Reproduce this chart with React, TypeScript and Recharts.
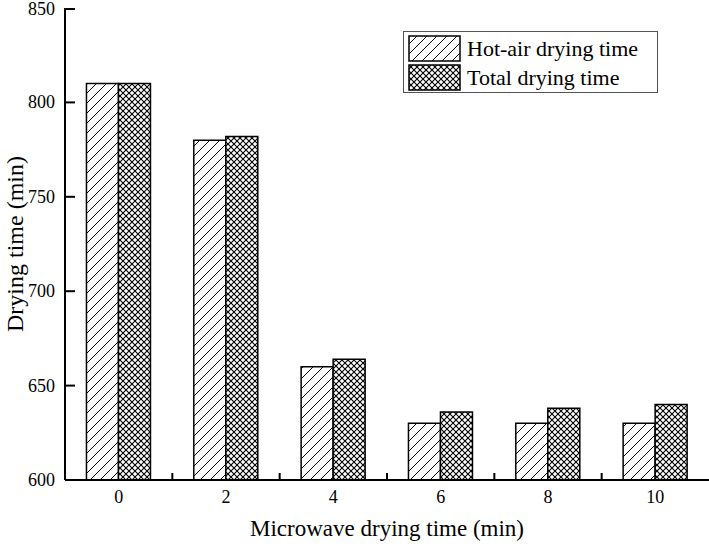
import { Bar, BarChart, XAxis, YAxis, Label } from "recharts";

const categories = ["0", "2", "4", "6", "8", "10"];
const hotAirTime = [810, 780, 660, 630, 630, 630];
const totalTime = [810, 782, 664, 636, 638, 640];
const yTicks = [600, 650, 700, 750, 800, 850];

const data = categories.map((name, i) => ({
	name,
	hotAir: hotAirTime[i],
	total: totalTime[i],
}));

const font = "Liberation Serif";

function Patterns() {
	return (
		<svg width={0} height={0} style={{ position: "absolute" }}>
			<defs>
				<pattern id="hatch" patternUnits="userSpaceOnUse" width={10} height={10}>
					<rect width={10} height={10} fill="#fff" />
					<path
						d="M0,10 L10,0 M-2.5,2.5 L2.5,-2.5 M7.5,12.5 L12.5,7.5"
						stroke="#000"
						strokeWidth={1}
					/>
				</pattern>
				<pattern id="cross" patternUnits="userSpaceOnUse" width={6} height={6}>
					<rect width={6} height={6} fill="#fff" />
					<path d="M0,0 L6,6 M6,0 L0,6" stroke="#000" strokeWidth={1.1} />
				</pattern>
			</defs>
		</svg>
	);
}

// category label at the centre, small inward tick at the left edge of the band
function XTick(props: any) {
	const { x, y, payload } = props;
	const half = payload?.offset ?? 53.7;
	const axisY = y - 8;
	return (
		<g>
			{payload.index > 0 && (
				<line
					x1={x - half}
					x2={x - half}
					y1={axisY}
					y2={axisY - 7}
					stroke="#000"
					strokeWidth={2}
				/>
			)}
			<text
				x={x}
				y={y + 15}
				textAnchor="middle"
				fontFamily={font}
				fontSize={18}
				fill="#000"
			>
				{payload.value}
			</text>
		</g>
	);
}

function YTick(props: any) {
	const { x, y, payload } = props;
	const axisX = x + 8;
	return (
		<g>
			<line x1={axisX} x2={axisX + 10} y1={y} y2={y} stroke="#000" strokeWidth={2} />
			<text
				x={x - 2}
				y={y + 6}
				textAnchor="end"
				fontFamily={font}
				fontSize={18}
				fill="#000"
			>
				{payload.value}
			</text>
		</g>
	);
}

function LegendBox() {
	const items = [
		{ label: "Hot-air drying time", fill: "url(#hatch)" },
		{ label: "Total drying time", fill: "url(#cross)" },
	];
	return (
		<div
			style={{
				position: "absolute",
				left: 403,
				top: 31,
				border: "1px solid #555",
				width: 255,
				height: 62,
				padding: "2px 4px",
				boxSizing: "border-box",
				background: "#fff",
			}}
		>
			{items.map((it) => (
				<div key={it.label} style={{ display: "flex", alignItems: "center", height: 29 }}>
					<svg width={54} height={28}>
						<rect x={1} y={1} width={51} height={25} fill={it.fill} stroke="#000" strokeWidth={1.5} />
					</svg>
					<span style={{ fontFamily: font, fontSize: 22, marginLeft: 5, color: "#000" }}>
						{it.label}
					</span>
				</div>
			))}
		</div>
	);
}

export default function App() {
	return (
		<div style={{ position: "absolute", left: 0, top: 0, background: "#fff", fontFamily: font }}>
			<Patterns />
			<BarChart
				width={709}
				height={546}
				data={data}
				margin={{ top: 8, right: 0, bottom: 0, left: 0 }}
				barCategoryGap="20%"
				barGap={0}
			>
				<XAxis
					dataKey="name"
					height={66}
					tick={(p: any) => <XTick {...p} />}
					tickLine={false}
					tickSize={0}
					tickMargin={8}
					axisLine={{ stroke: "#000", strokeWidth: 2 }}
				>
					<Label
						value="Microwave drying time (min)"
						position="insideBottom"
						offset={10}
						style={{ fontFamily: font, fontSize: 23, fill: "#000" }}
					/>
				</XAxis>
				<YAxis
					width={65}
					domain={[600, 850]}
					ticks={yTicks}
					allowDataOverflow
					tick={(p: any) => <YTick {...p} />}
					tickLine={false}
					tickSize={0}
					tickMargin={8}
					axisLine={{ stroke: "#000", strokeWidth: 2 }}
				>
					<Label
						value="Drying time (min)"
						angle={-90}
						position="insideLeft"
						offset={14}
						style={{ fontFamily: font, fontSize: 24, fill: "#000", textAnchor: "middle" }}
					/>
				</YAxis>
				<Bar
					dataKey="hotAir"
					fill="url(#hatch)"
					stroke="#000"
					strokeWidth={1.5}
					isAnimationActive={false}
				/>
				<Bar
					dataKey="total"
					fill="url(#cross)"
					stroke="#000"
					strokeWidth={1.5}
					isAnimationActive={false}
				/>
			</BarChart>
			<LegendBox />
		</div>
	);
}
